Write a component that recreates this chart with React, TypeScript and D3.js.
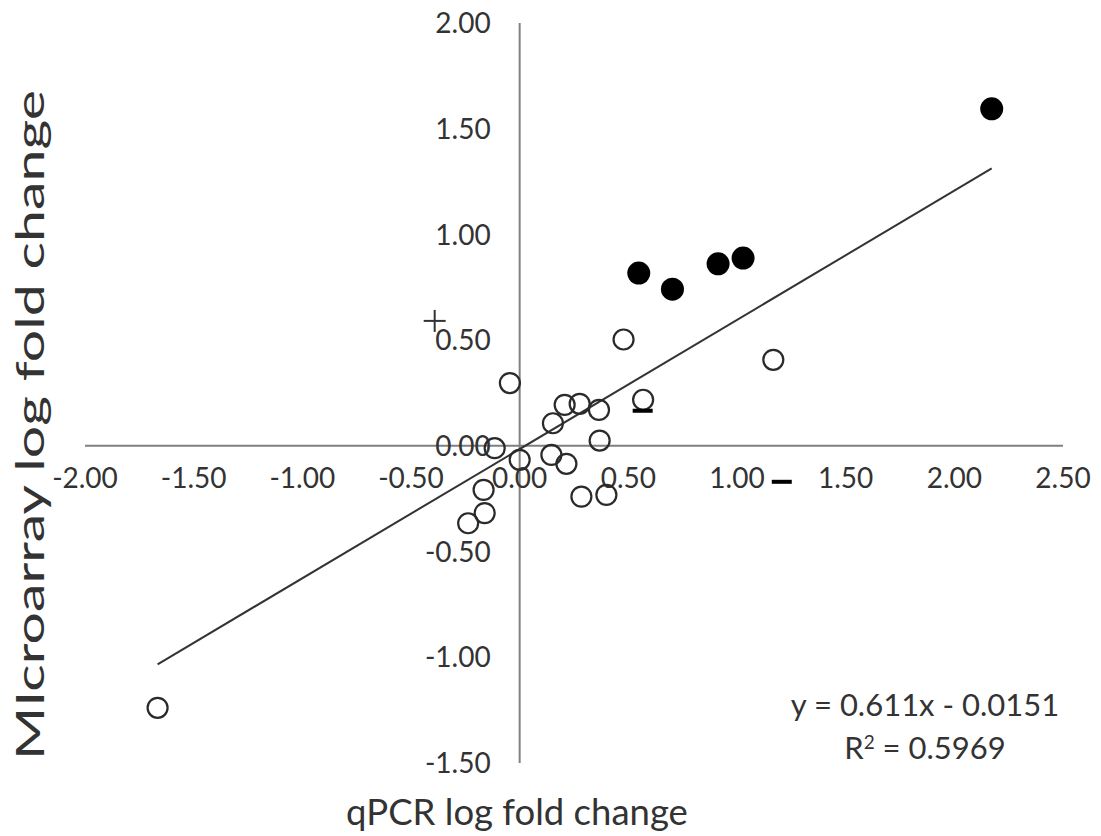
import React from 'react';
import { scaleLinear, min, max } from 'd3';

// open circles (qPCR, microarray)
const openX = [-1.666, -0.237, -0.161, -0.166, -0.115, -0.045, 0.0, 0.146, 0.153, 0.207, 0.215, 0.276, 0.284, 0.365, 0.368, 0.399, 0.478, 0.568, 1.167];
const openY = [-1.239, -0.366, -0.318, -0.208, -0.011, 0.297, -0.066, -0.043, 0.107, 0.194, -0.085, 0.199, -0.24, 0.17, 0.025, -0.232, 0.503, 0.218, 0.407];

// filled circles
const filledX = [0.548, 0.703, 0.913, 1.028, 2.172];
const filledY = [0.817, 0.741, 0.861, 0.888, 1.594];

const xTicks = [-2, -1.5, -1, -0.5, 0, 0.5, 1, 1.5, 2, 2.5];
const yTicks = [-1.5, -1, -0.5, 0, 0.5, 1, 1.5, 2];

const slope = 0.611;
const intercept = -0.0151;
const eqText = 'y = 0.611x - 0.0151';
const r2Value = '0.5969';

// little +/- marks placed on the plot
const plusMarks = [{ x: -0.391, y: 0.591 }];
const minusMarks = [{ x: 0.566, y: 0.166 }, { x: 1.206, y: -0.17 }];

const font = 'Lato, "Open Sans", sans-serif';
const txt = '#333';

export default function App() {
  const W = 1101, H = 836;
  const x = scaleLinear().domain([-2, 2.5]).range([85, 1063]);
  const y = scaleLinear().domain([-1.5, 2]).range([763, 23]);

  const allX = openX.concat(filledX);
  const x0 = min(allX) as number;
  const x1 = max(allX) as number;

  return (
    <svg width={W} height={H} style={{ position: 'absolute', left: 0, top: 0, background: '#fff' }}>
      {/* axes through zero */}
      <line x1={x(-2)} x2={x(2.5)} y1={y(0)} y2={y(0)} stroke="#808080" strokeWidth={2} />
      <line x1={x(0)} x2={x(0)} y1={y(2)} y2={y(-1.5)} stroke="#808080" strokeWidth={2} />

      {yTicks.map(t => (
        <text key={'y' + t} x={x(0) - 29} y={y(t)} dy="0.36em" textAnchor="end"
          fontFamily={font} fontSize={28} fill={txt}>{t.toFixed(2)}</text>
      ))}
      {xTicks.map(t => (
        <text key={'x' + t} x={x(t)} y={y(0) + 42} textAnchor="middle"
          fontFamily={font} fontSize={28} fill={txt}>{t.toFixed(2)}</text>
      ))}

      {/* trend line */}
      <line x1={x(x0)} y1={y(slope * x0 + intercept)} x2={x(x1)} y2={y(slope * x1 + intercept)}
        stroke="#333" strokeWidth={2} />

      {openX.map((d, i) => (
        <circle key={'o' + i} cx={x(d)} cy={y(openY[i])} r={10} fill="none" stroke="#2a2a2a" strokeWidth={2.2} />
      ))}
      {filledX.map((d, i) => (
        <circle key={'f' + i} cx={x(d)} cy={y(filledY[i])} r={11.5} fill="#000" />
      ))}

      {plusMarks.map((m, i) => (
        <g key={'p' + i} stroke="#333" strokeWidth={2}>
          <line x1={x(m.x) - 11} x2={x(m.x) + 11} y1={y(m.y)} y2={y(m.y)} />
          <line x1={x(m.x)} x2={x(m.x)} y1={y(m.y) - 11} y2={y(m.y) + 11} />
        </g>
      ))}
      {minusMarks.map((m, i) => (
        <line key={'m' + i} x1={x(m.x) - 10} x2={x(m.x) + 10} y1={y(m.y)} y2={y(m.y)}
          stroke="#000" strokeWidth={4} />
      ))}

      <text x={925} y={716} textAnchor="middle" fontFamily={font} fontSize={31} fill={txt}>{eqText}</text>
      <text x={925} y={759} textAnchor="middle" fontFamily={font} fontSize={31} fill={txt}>
        R<tspan dy={-10} fontSize={19}>2</tspan><tspan dy={10}> = {r2Value}</tspan>
      </text>

      <text x={517} y={825} textAnchor="middle" fontFamily={font} fontSize={36.5} fill={txt}>qPCR log fold change</text>
      {/* the y title is stretched along its length in the original */}
      <text transform="translate(31,425) rotate(-90)" x={-335} dy="0.35em"
        textLength={670} lengthAdjust="spacingAndGlyphs"
        fontFamily={font} fontSize={38} fill={txt}>MIcroarray log fold change</text>
    </svg>
  );
}
